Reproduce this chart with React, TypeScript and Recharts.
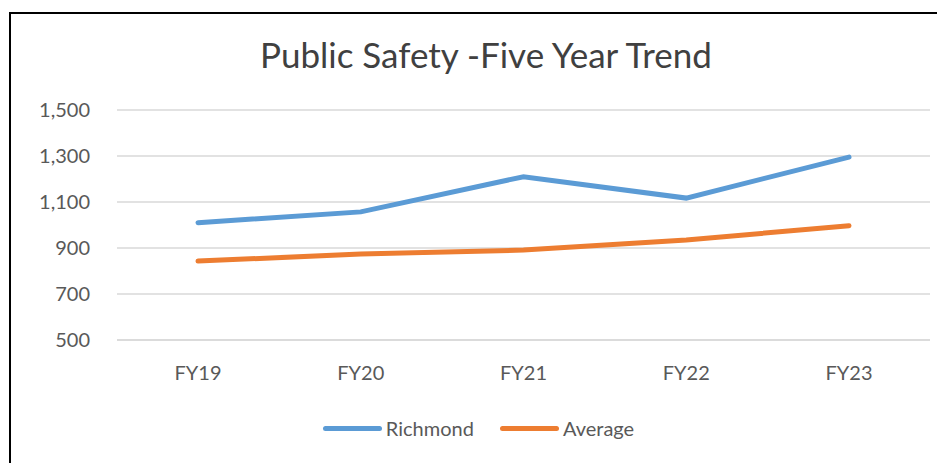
import React from "react";
import { LineChart, Line, XAxis, YAxis, CartesianGrid, Legend } from "recharts";

const years = ["FY19", "FY20", "FY21", "FY22", "FY23"];
const richmond = [1010, 1057, 1210, 1117, 1295];
const average = [843, 874, 891, 935, 997];
const yTicks = [500, 700, 900, 1100, 1300, 1500];
const seriesNames = ["Richmond", "Average"];

const seriesColors: Record<string, string> = {
  Richmond: "#5B9BD5",
  Average: "#ED7D31",
};

const data = years.map((fy, i) => ({
  fy,
  Richmond: richmond[i],
  Average: average[i],
}));

const font = "Lato, 'Open Sans', sans-serif";
const textColor = "#595959";

// the frame runs past the right edge of the page, as in the screenshot
if (typeof document !== "undefined") {
  document.documentElement.style.overflow = "hidden";
}

function LegendContent() {
  return (
    <div
      style={{
        display: "flex",
        justifyContent: "center",
        alignItems: "center",
        height: 24,
        paddingLeft: 16,
        fontFamily: font,
        fontSize: 20,
        color: textColor,
      }}
    >
      {seriesNames.map((name, i) => (
        <div
          key={name}
          style={{ display: "flex", alignItems: "center", marginLeft: i ? 26 : 0 }}
        >
          <span
            style={{
              display: "inline-block",
              width: 59,
              height: 5,
              borderRadius: 3,
              background: seriesColors[name],
              marginRight: 4,
            }}
          />
          <span>{name}</span>
        </div>
      ))}
    </div>
  );
}

export default function App() {
  return (
    <div
      style={{
        position: "relative",
        marginLeft: 1,
        marginTop: 4,
        width: 934,
        height: 449,
        overflow: "hidden",
        borderLeft: "2px solid #000",
        borderTop: "2px solid #000",
        background: "#fff",
      }}
    >
      <div
        style={{
          position: "absolute",
          left: 0,
          width: 934,
          paddingLeft: 16,
          boxSizing: "border-box",
          top: 20,
          textAlign: "center",
          fontFamily: font,
          fontSize: 35,
          color: "#404040",
          lineHeight: "40px",
          whiteSpace: "nowrap",
        }}
      >
        Public Safety -Five Year Trend
      </div>
      <LineChart
        width={934}
        height={449}
        data={data}
        accessibilityLayer={false}
        style={{ outline: "none" }}
        margin={{ top: 96, right: 15, left: 0, bottom: 23 }}
      >
        <CartesianGrid vertical={false} stroke="#d9d9d9" strokeWidth={1.5} />
        <XAxis
          dataKey="fy"
          height={76}
          padding={{ left: 81, right: 81 }}
          axisLine={{ stroke: "#d9d9d9", strokeWidth: 1.5 }}
          tickLine={false}
          tickSize={0}
          tickMargin={26}
          tick={{ fill: textColor, fontSize: 20, fontFamily: font }}
        />
        <YAxis
          width={106}
          domain={[500, 1500]}
          ticks={yTicks}
          axisLine={false}
          tickLine={false}
          tickSize={0}
          tickMargin={27}
          tickFormatter={(v: number) => v.toLocaleString("en-US")}
          tick={{ fill: textColor, fontSize: 20, fontFamily: font }}
        />
        <Legend verticalAlign="bottom" content={<LegendContent />} />
        <Line
          type="linear"
          dataKey="Richmond"
          stroke={seriesColors.Richmond}
          strokeWidth={5}
          strokeLinecap="round"
          dot={false}
          activeDot={false}
          isAnimationActive={false}
        />
        <Line
          type="linear"
          dataKey="Average"
          stroke={seriesColors.Average}
          strokeWidth={5}
          strokeLinecap="round"
          dot={false}
          activeDot={false}
          isAnimationActive={false}
        />
      </LineChart>
    </div>
  );
}
